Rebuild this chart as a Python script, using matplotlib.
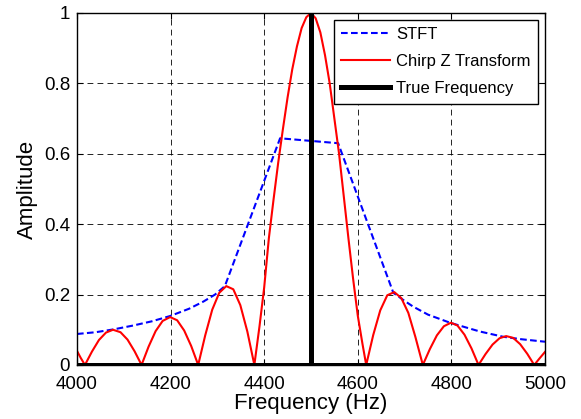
import numpy as np
import matplotlib
matplotlib.use('Agg')
import matplotlib.pyplot as plt

plt.rcParams['font.family'] = ['Liberation Sans', 'DejaVu Sans']

# STFT magnitude
stft_f = [4000, 4040, 4078, 4120, 4160, 4199, 4240, 4270, 4295, 4316,
          4434, 4558, 4676, 4700, 4718, 4750, 4797, 4830, 4861, 4911, 4950, 5000]
stft_a = [0.088, 0.093, 0.101, 0.112, 0.124, 0.139, 0.160, 0.180, 0.200, 0.224,
          0.644, 0.630, 0.205, 0.182, 0.166, 0.143, 0.120, 0.107, 0.095, 0.080, 0.073, 0.066]

# Chirp Z transform magnitude
czt_f = [4000, 4008, 4017,
         4032, 4047, 4062, 4077, 4093, 4108, 4123, 4138,
         4153, 4168, 4183, 4199, 4214, 4229, 4244, 4259,
         4274, 4289, 4304, 4319, 4334, 4349, 4364, 4379,
         4390, 4400, 4410, 4420, 4430, 4440, 4450, 4460, 4470, 4480, 4490, 4500,
         4510, 4520, 4530, 4540, 4550, 4560, 4570, 4580, 4590, 4600, 4610, 4618,
         4633, 4648, 4663, 4678, 4693, 4708, 4723, 4739,
         4754, 4769, 4784, 4799, 4813, 4828, 4843, 4858,
         4873, 4888, 4903, 4917, 4932, 4947, 4962, 4977,
         4988, 5000]
czt_a = [0.040, 0.020, 0.0,
         0.038, 0.071, 0.092, 0.100, 0.093, 0.072, 0.039, 0.0,
         0.052, 0.096, 0.125, 0.136, 0.127, 0.098, 0.054, 0.0,
         0.084, 0.157, 0.205, 0.224, 0.215, 0.170, 0.095, 0.0,
         0.110, 0.220, 0.360, 0.470, 0.575, 0.670, 0.760, 0.840, 0.905, 0.957, 0.988, 1.0,
         0.985, 0.945, 0.880, 0.800, 0.700, 0.600, 0.480, 0.360, 0.245, 0.140, 0.060, 0.0,
         0.085, 0.155, 0.198, 0.207, 0.190, 0.148, 0.080, 0.0,
         0.045, 0.084, 0.110, 0.120, 0.112, 0.086, 0.047, 0.0,
         0.031, 0.058, 0.076, 0.082, 0.077, 0.059, 0.032, 0.0,
         0.018, 0.037]

# true frequency marker
true_f = [4000, 4500, 4500, 4500, 5000]
true_a = [0, 0, 1, 0, 0]

fig = plt.figure(figsize=(5.81, 4.19), dpi=100)
ax = fig.add_axes([0.1325, 0.129, 0.8055, 0.840])

ax.plot(stft_f, stft_a, color='#0000ff', lw=1.5, dashes=(3.2, 1.6), label='STFT')
ax.plot(czt_f, czt_a, color='#ff0000', lw=1.5, label='Chirp Z Transform')
ax.plot(true_f, true_a, color='k', lw=3.6, label='True Frequency', solid_joinstyle='miter')

ax.set_xlim(4000, 5000)
ax.set_ylim(0, 1)
ax.set_xticks([4000, 4200, 4400, 4600, 4800, 5000])
ax.set_yticks([0, 0.2, 0.4, 0.6, 0.8, 1])
ax.set_yticklabels(['0', '0.2', '0.4', '0.6', '0.8', '1'])
ax.grid(True, color='k', lw=0.6, linestyle=(0, (7, 5)))
ax.tick_params(direction='in', top=True, right=True, length=4, labelsize=13.5)
ax.tick_params(axis='x', pad=8)
ax.tick_params(axis='y', pad=5)
for s in ax.spines.values():
    s.set_linewidth(1.0)

ax.set_xlabel('Frequency (Hz)', fontsize=16, labelpad=0)
ax.set_ylabel('Amplitude', fontsize=16, labelpad=4)

leg = ax.legend(loc='upper right', fontsize=12, fancybox=False, framealpha=1,
                edgecolor='k', handlelength=2.9, handletextpad=0.4,
                labelspacing=0.72, borderpad=0.45, borderaxespad=0.4)
leg.get_frame().set_linewidth(1.0)

fig.savefig('out.png', dpi=100)
